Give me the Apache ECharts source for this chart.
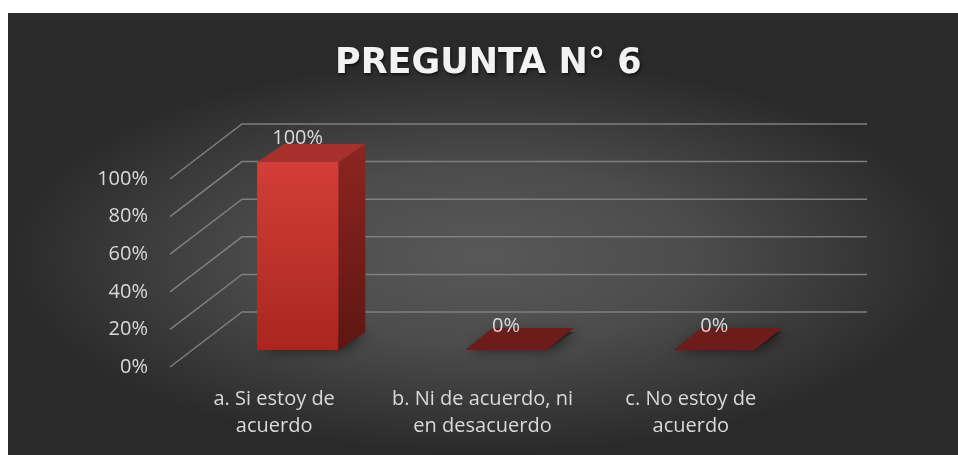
<!DOCTYPE html>
<html><head><meta charset="utf-8">
<script src="https://cdn.jsdelivr.net/npm/echarts/dist/echarts.min.js"></script>
<style>
html,body{margin:0;padding:0;background:#fff;width:958px;height:455px;overflow:hidden}
#c{position:absolute;left:8px;top:13px;width:950px;height:442px;
background:radial-gradient(ellipse closest-side at 50% 55%, #585858 0%, #4c4c4c 45%, #2a2a2a 100%);}
</style></head><body><div id="c"></div>
<script>
const titleText = 'PREGUNTA N° 6';
const categories = ['a. Si estoy de\nacuerdo', 'b. Ni de acuerdo, ni\nen desacuerdo', 'c. No estoy de\nacuerdo'];
const values = [100, 0, 0];
const yTicks = [0, 20, 40, 60, 80, 100];

const FONT = '"Open Sans", "Noto Sans", sans-serif';
const chart = echarts.init(document.getElementById('c'), null, {renderer: 'canvas'});

function barItem(params, api) {
  const i = api.value(0), v = api.value(1);
  const base = api.coord([i, 0]), top = api.coord([i, v]);
  const hw = api.size([1, 0])[0] * 0.39 / 2;
  const fx = base[0] + 23.5, fy0 = base[1] - 17, fy1 = top[1] - 17;
  const bx = 27, by = -18;
  const L = fx - hw, R = fx + hw;
  const ch = [];
  ch.push({type: 'polygon', shape: {points: [[L, fy0], [R, fy0], [R + bx, fy0 + by], [L + bx, fy0 + by]]},
    style: {fill: 'rgba(20,20,20,0.55)', shadowBlur: 12, shadowColor: 'rgba(0,0,0,0.9)', shadowOffsetX: 4, shadowOffsetY: 1}});
  if (fy0 - fy1 > 0.5) {
    ch.push({type: 'polygon', shape: {points: [[R, fy1], [R + bx, fy1 + by], [R + bx, fy0 + by], [R, fy0]]},
      style: {fill: {type: 'linear', x: 0, y: 0, x2: 0, y2: 1, colorStops: [{offset: 0, color: '#8e2520'}, {offset: 1, color: '#5e1613'}]}}});
    ch.push({type: 'polygon', shape: {points: [[L, fy1], [R, fy1], [R + bx, fy1 + by], [L + bx, fy1 + by]]},
      style: {fill: '#a8302b'}});
    ch.push({type: 'rect', shape: {x: L, y: fy1, width: R - L, height: fy0 - fy1},
      style: {fill: {type: 'linear', x: 0, y: 0, x2: 0, y2: 1, colorStops: [{offset: 0, color: '#d33e39'}, {offset: 1, color: '#a9261f'}]}}});
  } else {
    ch.push({type: 'polygon', shape: {points: [[L, fy0], [R, fy0], [R + bx, fy0 + by - 4], [L + bx, fy0 + by - 4]]},
      style: {fill: '#6b1c1b'}});
  }
  ch.push({type: 'text', x: fx, y: fy1 + by - 6,
    style: {text: v + '%', fill: '#d9d9d9', font: '20px ' + FONT, align: 'center', verticalAlign: 'middle'}});
  return {type: 'group', children: ch};
}

function gridItem(params, api) {
  const cs = params.coordSys;
  const y = api.coord([0, api.value(1)])[1];
  return {type: 'polyline',
    shape: {points: [[cs.x, y], [cs.x + 72, y - 55], [cs.x + cs.width + 72, y - 55]]},
    style: {stroke: '#7f7f7f', lineWidth: 1.5, fill: null}};
}

chart.setOption({
  backgroundColor: 'transparent',
  animation: false,
  title: {
    text: titleText, left: 327, top: 33, padding: 0,
    textStyle: {color: '#f2f2f2', fontSize: 35, fontWeight: 'bold', fontFamily: '"DejaVu Sans", sans-serif',
      textShadowColor: 'rgba(0,0,0,0.6)', textShadowBlur: 3, textShadowOffsetX: 1, textShadowOffsetY: 2}
  },
  grid: {left: 162, right: 163, top: 166, bottom: 88, containLabel: false},
  xAxis: {
    type: 'category', data: categories,
    axisLine: {show: false}, axisTick: {show: false}, splitLine: {show: false},
    axisLabel: {color: '#d9d9d9', fontSize: 20, fontFamily: FONT, margin: 19, lineHeight: 27, interval: 0}
  },
  yAxis: {
    type: 'value', min: 0, max: 100, interval: 20,
    axisLine: {show: false}, axisTick: {show: false}, splitLine: {show: false},
    axisLabel: {color: '#d9d9d9', fontSize: 20, fontFamily: FONT, margin: 22, formatter: '{value}%'}
  },
  series: [
    {type: 'custom', data: yTicks.map(t => [0, t]), renderItem: gridItem, clip: false, silent: true, z: 1},
    {type: 'custom', data: values.map((v, i) => [i, v]), renderItem: barItem, clip: false, z: 3}
  ]
});
</script></body></html>
